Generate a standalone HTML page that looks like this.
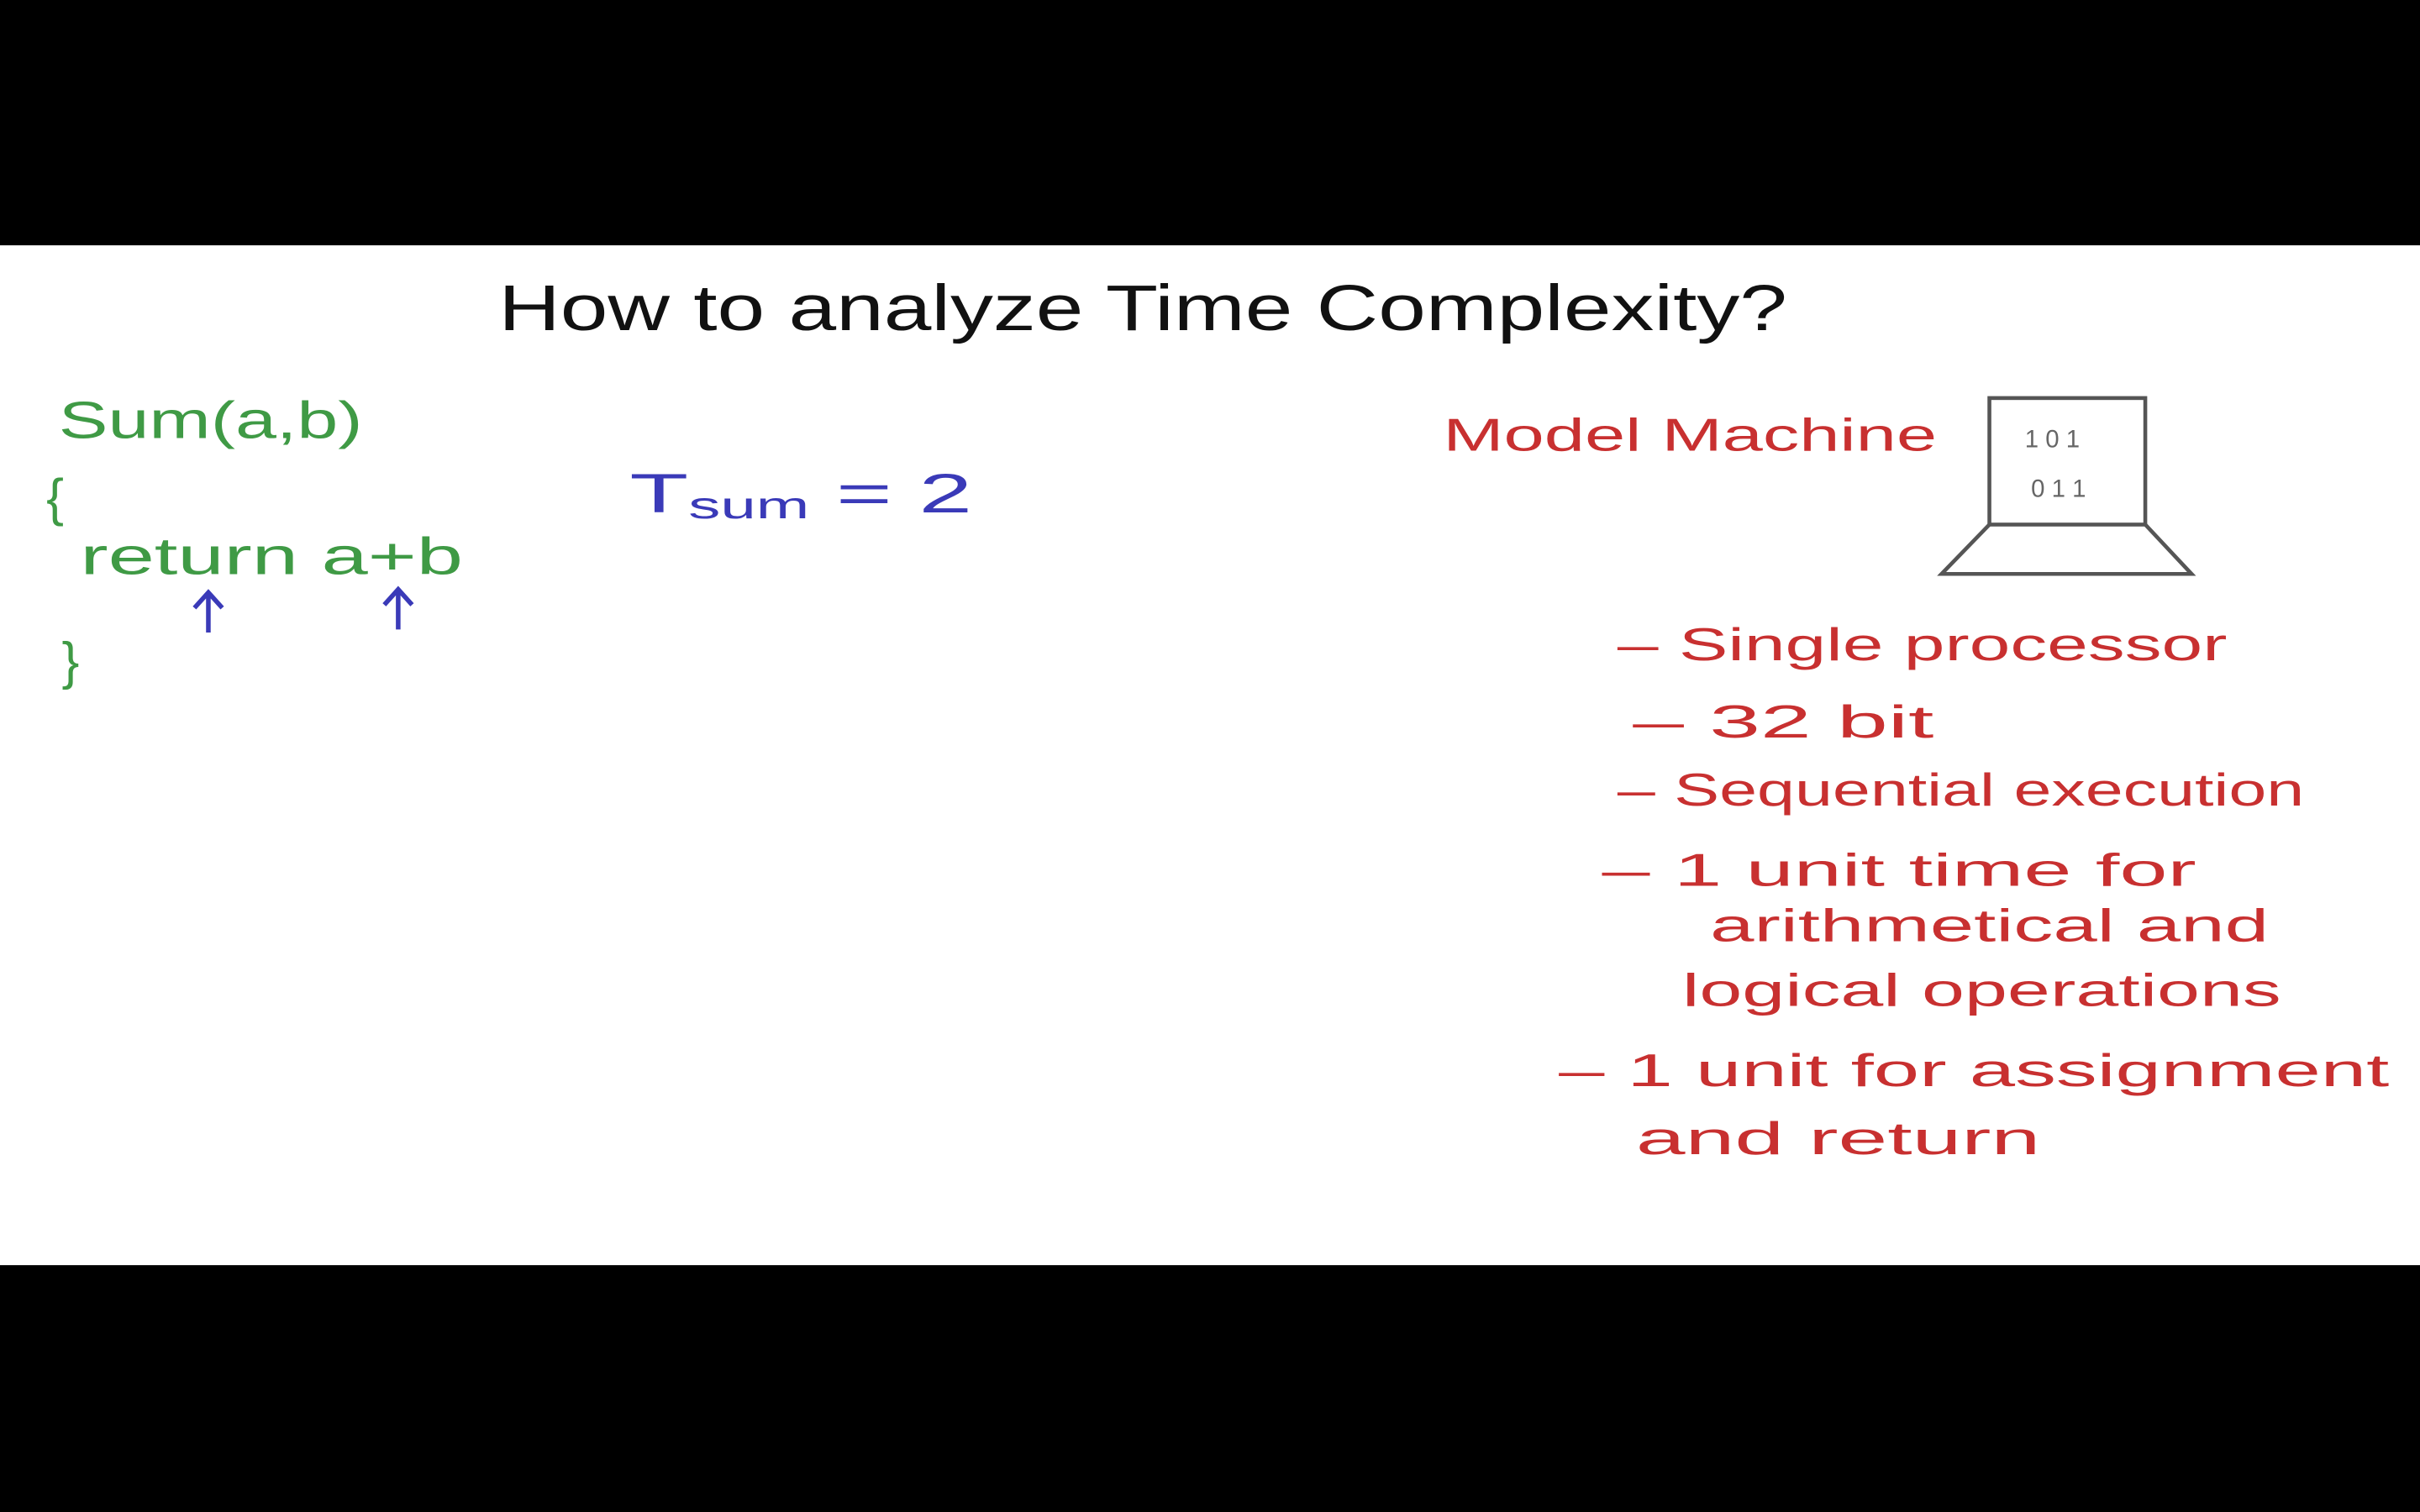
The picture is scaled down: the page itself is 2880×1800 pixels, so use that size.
<!DOCTYPE html>
<html><head><meta charset="utf-8"><style>
html,body{margin:0;padding:0;background:#000;width:2880px;height:1800px;overflow:hidden}
svg{display:block}
text{font-family:"Liberation Sans",sans-serif}
</style></head><body>
<svg width="2880" height="1800" viewBox="0 0 1568 980" xmlns="http://www.w3.org/2000/svg">
<rect x="0" y="0" width="1568" height="980" fill="#000"/>
<rect x="0" y="159" width="1568" height="661" fill="#fff"/>
<!-- title -->
<text x="323" y="214" font-size="42" fill="#111" textLength="835" lengthAdjust="spacingAndGlyphs">How to analyze Time Complexity?</text>
<!-- code -->
<g fill="#3f9a45" font-size="34">
<text x="38" y="284" textLength="197" lengthAdjust="spacingAndGlyphs">Sum(a,b)</text>
<text x="30" y="334">{</text>
<text x="52" y="372" textLength="248" lengthAdjust="spacingAndGlyphs">return a+b</text>
<text x="40" y="440">}</text>
</g>
<g stroke="#3a3ab8" stroke-width="3" fill="none">
<path d="M135 410 V384 M126 394 L135 384 L144 394"/>
<path d="M258 408 V382 M249 392 L258 382 L267 392"/>
</g>
<text x="408" y="332" font-size="36" fill="#3a3ab8" textLength="222" lengthAdjust="spacingAndGlyphs">T<tspan font-size="24" dy="4">sum</tspan><tspan dy="-4"> = 2</tspan></text>
<!-- model machine -->
<text x="935" y="292" font-size="30" fill="#c83030" textLength="320" lengthAdjust="spacingAndGlyphs">Model Machine</text>
<g stroke="#555" stroke-width="2.5" fill="none">
<rect x="1289" y="258" width="101" height="82"/>
<path d="M1289 340 L1258 372 L1420 372 L1390 340"/>
</g>
<text x="1312" y="290" font-size="16" fill="#666">1 0 1</text>
<text x="1316" y="322" font-size="16" fill="#666">0 1 1</text>
<g fill="#c83030" font-size="30">
<text x="1048" y="428" textLength="395" lengthAdjust="spacingAndGlyphs">– Single processor</text>
<text x="1058" y="478" textLength="195" lengthAdjust="spacingAndGlyphs">– 32  bit</text>
<text x="1048" y="522" textLength="445" lengthAdjust="spacingAndGlyphs">– Sequential execution</text>
<text x="1038" y="574" textLength="385" lengthAdjust="spacingAndGlyphs">– 1 unit time for</text>
<text x="1108" y="610" textLength="362" lengthAdjust="spacingAndGlyphs">arithmetical and</text>
<text x="1090" y="652" textLength="388" lengthAdjust="spacingAndGlyphs">logical operations</text>
<text x="1010" y="704" textLength="538" lengthAdjust="spacingAndGlyphs">– 1 unit for assignment</text>
<text x="1060" y="748" textLength="262" lengthAdjust="spacingAndGlyphs">and return</text>
</g>
</svg>
</body></html>
